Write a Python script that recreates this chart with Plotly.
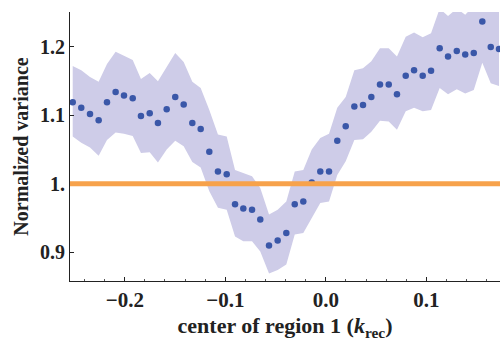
import plotly.graph_objects as go

# center of region 1 (k_rec)
k_center = [-0.2518, -0.2433, -0.2346, -0.2260, -0.2177, -0.2091, -0.2008, -0.1921, -0.1839, -0.1752,
            -0.1670, -0.1583, -0.1498, -0.1414, -0.1328, -0.1245, -0.1159, -0.1073, -0.0986, -0.0903,
            -0.0821, -0.0734, -0.0652, -0.0565, -0.0479, -0.0393, -0.0309, -0.0224, -0.0140, -0.0055,
            0.0032, 0.0114, 0.0198, 0.0284, 0.0370, 0.0453, 0.0539, 0.0626, 0.0708, 0.0795,
            0.0878, 0.0964, 0.1047, 0.1133, 0.1216, 0.1303, 0.1387, 0.1472, 0.1557, 0.1641, 0.1723]

norm_var = [1.119, 1.111, 1.102, 1.093, 1.119, 1.134, 1.129, 1.125, 1.099, 1.103,
            1.089, 1.109, 1.127, 1.116, 1.089, 1.080, 1.047, 1.018, 1.014, 0.970,
            0.964, 0.962, 0.948, 0.910, 0.917, 0.928, 0.970, 0.974, 1.002, 1.018,
            1.018, 1.063, 1.084, 1.113, 1.115, 1.127, 1.145, 1.145, 1.131, 1.158,
            1.166, 1.158, 1.165, 1.198, 1.186, 1.194, 1.189, 1.191, 1.237, 1.200, 1.197]

band_upper = [1.172, 1.166, 1.156, 1.149, 1.175, 1.193, 1.187, 1.181, 1.153, 1.162,
              1.150, 1.171, 1.191, 1.178, 1.149, 1.140, 1.108, 1.072, 1.069, 1.020,
              1.016, 1.011, 0.994, 0.955, 0.962, 0.974, 1.018, 1.020, 1.050, 1.067,
              1.073, 1.111, 1.127, 1.166, 1.169, 1.179, 1.198, 1.198, 1.186, 1.215,
              1.221, 1.214, 1.220, 1.256, 1.245, 1.256, 1.247, 1.260, 1.290, 1.260, 1.260]

band_lower = [1.069, 1.060, 1.053, 1.041, 1.064, 1.075, 1.073, 1.070, 1.045, 1.046,
              1.031, 1.050, 1.063, 1.055, 1.032, 1.024, 0.989, 0.965, 0.962, 0.923,
              0.916, 0.916, 0.901, 0.869, 0.874, 0.882, 0.926, 0.928, 0.950, 0.972,
              0.974, 1.013, 1.033, 1.064, 1.065, 1.076, 1.092, 1.091, 1.079, 1.106,
              1.111, 1.106, 1.108, 1.140, 1.131, 1.138, 1.132, 1.137, 1.177, 1.147, 1.143]

ref_level = 1.0

x_tickvals = [-0.2, -0.1, 0.0, 0.1]
x_ticktext = ["\u22120.2", "\u22120.1", "0.0", "0.1"]
y_tickvals = [0.9, 1.0, 1.1, 1.2]
y_ticktext = ["0.9", "1.", "1.1", "1.2"]

BAND = "#cecce8"
DOT = "#3a57a8"
ORANGE = "#f7a24b"
FONT = "Liberation Serif"

fig = go.Figure()
fig.add_trace(go.Scatter(
    x=k_center + k_center[::-1], y=band_upper + band_lower[::-1],
    fill="toself", fillcolor=BAND, line=dict(width=0), mode="lines",
    hoverinfo="skip", showlegend=False))
fig.add_shape(type="line", xref="paper", yref="y", x0=0, x1=1, y0=ref_level, y1=ref_level,
              line=dict(color=ORANGE, width=5))
fig.add_trace(go.Scatter(
    x=k_center, y=norm_var, mode="markers",
    marker=dict(color=DOT, size=6.5), showlegend=False))

axis_common = dict(showgrid=False, zeroline=False, showline=True, linecolor="#222",
                   linewidth=1, ticks="inside", tickcolor="#222", ticklen=4, mirror=False)

fig.update_xaxes(range=[-0.2545, 0.1733], tickvals=x_tickvals, ticktext=x_ticktext,
                 tickfont=dict(family=FONT, size=21, color="#222", weight="bold"),
                 minor=dict(ticks="inside", dtick=0.02, tick0=0, ticklen=2, tickcolor="#555"),
                 title=dict(text="center of region 1 (<i>k</i><sub>rec</sub>)",
                            font=dict(family=FONT, size=22, color="#222", weight="bold"),
                            standoff=6),
                 **axis_common)
fig.update_yaxes(range=[0.858, 1.251], tickvals=y_tickvals, ticktext=y_ticktext,
                 tickfont=dict(family=FONT, size=20, color="#222", weight="bold"),
                 title=dict(text="Normalized variance",
                            font=dict(family=FONT, size=20, color="#222", weight="bold"),
                            standoff=6),
                 **axis_common)

fig.update_layout(width=500, height=345, margin=dict(l=70, r=0, t=12, b=64, autoexpand=False),
                  plot_bgcolor="white", paper_bgcolor="white")

fig.write_html("out.html", config={"displayModeBar": False},
               post_script="document.body.style.margin='0';document.body.style.overflow='hidden';")
